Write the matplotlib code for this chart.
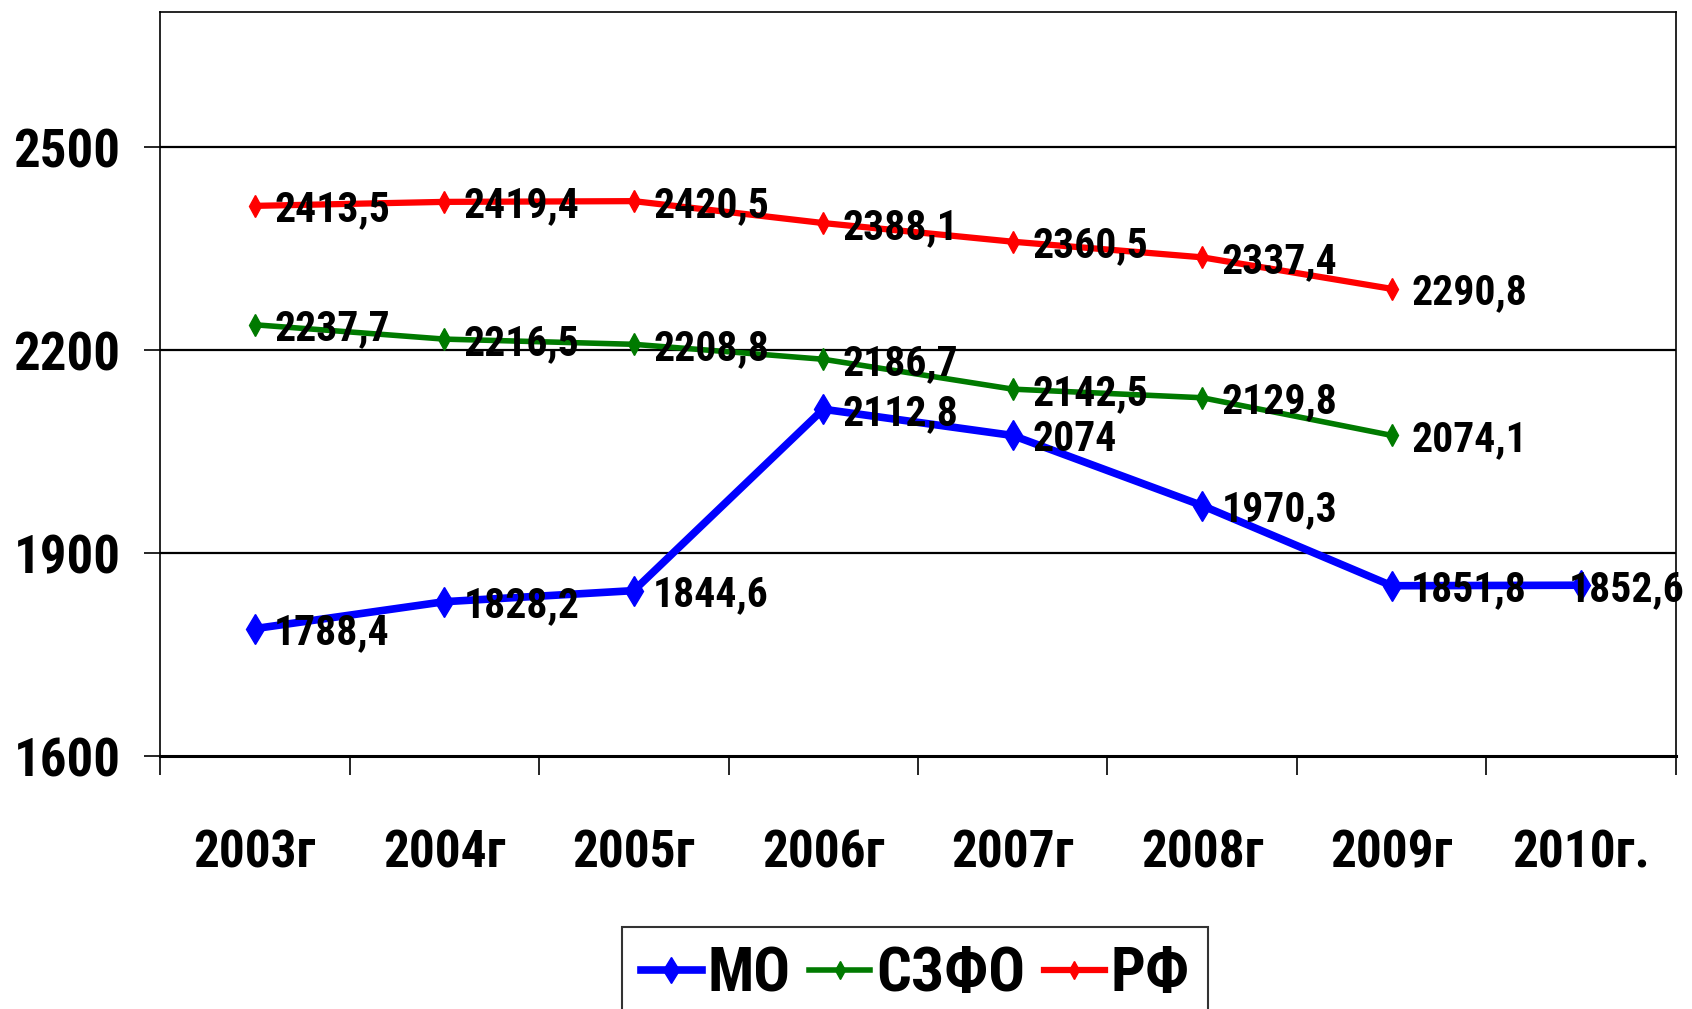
# -*- coding: utf-8 -*-
# line chart: MO / SZFO / RF, 2003-2010
import numpy as np
import matplotlib
matplotlib.use("Agg")
import matplotlib.pyplot as plt
from matplotlib.lines import Line2D

# data
years = ["2003г", "2004г", "2005г", "2006г", "2007г", "2008г", "2009г", "2010г."]
mo = [1788.4, 1828.2, 1844.6, 2112.8, 2074, 1970.3, 1851.8, 1852.6]
szfo = [2237.7, 2216.5, 2208.8, 2186.7, 2142.5, 2129.8, 2074.1]
rf = [2413.5, 2419.4, 2420.5, 2388.1, 2360.5, 2337.4, 2290.8]
y_ticks = [1600, 1900, 2200, 2500]

plt.rcParams['font.family'] = ['Roboto Condensed', 'Liberation Sans Narrow', 'Liberation Sans', 'DejaVu Sans']
plt.rcParams['font.weight'] = 'bold'

fig = plt.figure(figsize=(16.92, 10.09), dpi=100)
ax = fig.add_axes([0.0946, 0.2507, 0.9905 - 0.0946, 0.988 - 0.2507])

def fmt(v):
    s = ("%.1f" % v).rstrip('0').rstrip('.')
    return s.replace('.', ',')

series = [
    ("МО", mo, "#0000FF", 5.5, 15),
    ("СЗФО", szfo, "#007A00", 4.0, 11),
    ("РФ", rf, "#FF0000", 4.5, 11),
]

handles = []
for name, vals, col, lw, ms in series:
    x = np.arange(len(vals))
    ax.plot(x, vals, color=col, lw=lw, marker='d', ms=ms, mec=col, mfc=col, zorder=3)
    handles.append(Line2D([], [], color=col, lw=lw, marker='d', ms=ms - 2, mec=col, mfc=col))
    for i, v in enumerate(vals):
        dx = 14
        if name == "МО" and i == 7:
            dx = -9
        ax.annotate(fmt(v), (i, v), xytext=(dx, -3), textcoords='offset points',
                    ha='left', va='center', fontsize=30, fontweight='bold', zorder=4)

ax.set_xlim(-0.5, 7.5)
ax.set_ylim(1600, 2700)
ax.set_yticks(y_ticks)
ax.set_yticklabels([str(t) for t in y_ticks], fontsize=38, fontweight='bold')
ax.tick_params(axis='y', length=11.5, width=1.2, pad=17)

ax.set_xticks(np.arange(len(years)))
ax.set_xticklabels(years, fontsize=37, fontweight='bold')
ax.tick_params(axis='x', which='major', length=0, pad=52)
ax.set_xticks(np.arange(-0.5, 8, 1), minor=True)
ax.tick_params(axis='x', which='minor', length=14, width=1.2)

for yv in y_ticks[1:]:
    ax.axhline(yv, color='black', lw=1.6, zorder=1)

for s in ['left', 'top', 'right']:
    ax.spines[s].set_linewidth(1.2)
ax.spines['bottom'].set_linewidth(2.2)

leg = fig.legend(handles, ["МО", "СЗФО", "РФ"], loc='upper center',
                 bbox_to_anchor=(0.541, 0.0815), ncol=3, frameon=True,
                 fancybox=False, edgecolor='black', fontsize=44,
                 handlelength=1.0, handletextpad=0.1, columnspacing=0.3,
                 borderaxespad=0, borderpad=0.3)
leg.get_frame().set_linewidth(1.5)

fig.savefig("out.png", dpi=100)
